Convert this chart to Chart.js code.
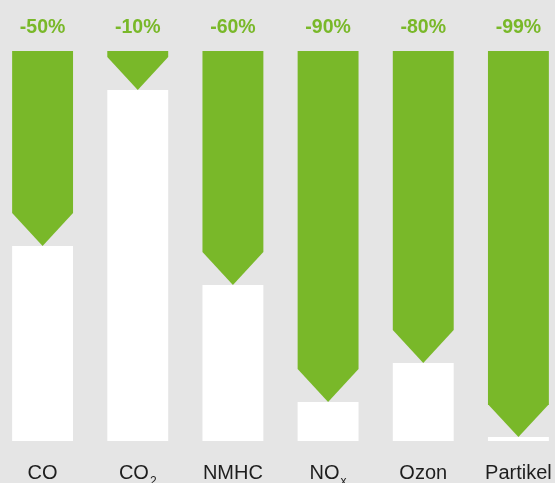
<!DOCTYPE html>
<html>
<head>
<meta charset="utf-8">
<script src="https://cdn.jsdelivr.net/npm/chart.js@4/dist/chart.umd.min.js"></script>
<style>
  html, body { margin: 0; padding: 0; width: 555px; height: 483px; overflow: hidden; background: #e5e5e5; }
  #wrap { position: absolute; left: -5px; top: 0; width: 571px; height: 483px; }
</style>
</head>
<body>
<div id="wrap"><canvas id="chart" width="571" height="483"></canvas></div>
<script>
// Pollutant categories (base text + subscript)
const categories = ['CO', 'CO', 'NMHC', 'NO', 'Ozon', 'Partikel'];
const subscripts = ['', '2', '', 'x', '', ''];
// Reduction labels shown above each column
const reductionLabels = ['-50%', '-10%', '-60%', '-90%', '-80%', '-99%'];
// Remaining share (%) after reduction, drawn as white bars
const remaining = [50, 90, 40, 10, 20, 1];
// Full scale (%)
const fullScale = [100, 100, 100, 100, 100, 100];

const GREEN = '#79b829';

// Green reduction span: floating bar from remaining value up to full scale
const reductionSpan = remaining.map((r, i) => [r, fullScale[i]]);

// Draws the green reduction bars as downward arrows
const arrowPlugin = {
  id: 'arrows',
  afterDatasetsDraw(chart) {
    const ctx = chart.ctx;
    const meta = chart.getDatasetMeta(1);
    ctx.save();
    ctx.fillStyle = GREEN;
    meta.data.forEach((el) => {
      const p = el.getProps(['x', 'y', 'base', 'width'], true);
      const top = Math.min(p.y, p.base);
      const tip = Math.max(p.y, p.base);
      const half = p.width / 2;
      const head = half * 1.08;
      const shoulder = Math.max(top, tip - head);
      ctx.beginPath();
      ctx.moveTo(p.x - half, top);
      ctx.lineTo(p.x + half, top);
      ctx.lineTo(p.x + half, shoulder);
      ctx.lineTo(p.x, tip);
      ctx.lineTo(p.x - half, shoulder);
      ctx.closePath();
      ctx.fill();
    });
    ctx.restore();
  }
};

// Reduction labels above the columns and category names below them
const labelPlugin = {
  id: 'labels',
  afterDraw(chart) {
    const ctx = chart.ctx;
    const xs = chart.scales.x;
    ctx.save();
    ctx.textBaseline = 'alphabetic';
    reductionLabels.forEach((t, i) => {
      const x = xs.getPixelForValue(i);
      ctx.font = 'bold 19.5px "Liberation Sans", Arial, sans-serif';
      ctx.fillStyle = GREEN;
      ctx.textAlign = 'center';
      ctx.fillText(t, x, 33);
    });
    categories.forEach((t, i) => {
      const x = xs.getPixelForValue(i);
      const mainFont = '20px "Liberation Sans", Arial, sans-serif';
      const subFont = '12px "Liberation Sans", Arial, sans-serif';
      ctx.font = mainFont;
      const wMain = ctx.measureText(t).width;
      ctx.font = subFont;
      const sub = subscripts[i];
      const wSub = sub ? ctx.measureText(sub).width + 1 : 0;
      const start = x - (wMain + wSub) / 2;
      ctx.fillStyle = '#1e1e1e';
      ctx.textAlign = 'left';
      ctx.font = mainFont;
      ctx.fillText(t, start, 479);
      if (sub) {
        ctx.font = subFont;
        ctx.fillText(sub, start + wMain + 1, 485);
      }
    });
    ctx.restore();
  }
};

new Chart(document.getElementById('chart'), {
  type: 'bar',
  data: {
    labels: categories.map((c, i) => c + subscripts[i]),
    datasets: [
      {
        label: 'Verbleibend',
        data: remaining,
        backgroundColor: '#ffffff',
        borderWidth: 0
      },
      {
        label: 'Reduktion',
        data: reductionSpan,
        backgroundColor: 'rgba(0,0,0,0)',
        borderWidth: 0
      }
    ]
  },
  options: {
    responsive: false,
    animation: false,
    events: [],
    grouped: false,
    categoryPercentage: 1,
    barPercentage: 0.64,
    layout: { padding: { top: 51, bottom: 42, left: 0, right: 0 } },
    plugins: { legend: { display: false }, tooltip: { enabled: false } },
    scales: {
      x: { display: false },
      y: { display: false, min: 0, max: 100 }
    }
  },
  plugins: [arrowPlugin, labelPlugin]
});
</script>
</body>
</html>
